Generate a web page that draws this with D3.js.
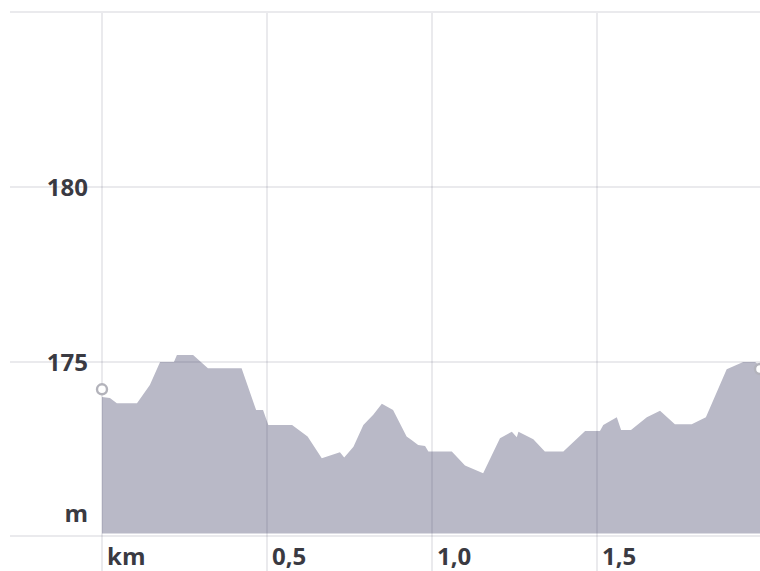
<!DOCTYPE html>
<html lang="en">
<head>
    <meta charset="UTF-8"/>
    <title>Elevation profile</title>
    <script src="https://d3js.org/d3.v7.min.js"></script>
    <style>
        body { margin: 0; background: #fff; }
        svg { display: block; }
        .lbl { font-family: "Open Sans", sans-serif; font-weight: 700; font-size: 24px; fill: #3a3a42; }
    </style>
</head>
<body>
    <script>
        var w = 760;
        var h = 571;

        // distance along route (km) and elevation (m)
        var distKm = [0, 0.024, 0.045, 0.106, 0.145, 0.176, 0.218, 0.227, 0.276, 0.321,
            0.423, 0.458, 0.467, 0.488, 0.504, 0.576, 0.623, 0.666, 0.721, 0.734,
            0.762, 0.792, 0.822, 0.848, 0.882, 0.923, 0.938, 0.958, 0.979, 0.989,
            1.060, 1.100, 1.155, 1.206, 1.242, 1.257, 1.262, 1.307, 1.342, 1.398,
            1.464, 1.509, 1.519, 1.560, 1.573, 1.603, 1.651, 1.691, 1.736, 1.787,
            1.830, 1.893, 1.943, 1.979, 1.994];
        var elevM = [174.0, 173.97, 173.82, 173.82, 174.34, 175.0, 175.0, 175.2, 175.2, 174.82,
            174.82, 173.87, 173.63, 173.63, 173.2, 173.2, 172.87, 172.25, 172.42, 172.27,
            172.58, 173.2, 173.49, 173.81, 173.63, 172.87, 172.77, 172.63, 172.6, 172.44,
            172.44, 172.04, 171.82, 172.82, 173.01, 172.85, 173.01, 172.79, 172.44, 172.44,
            173.03, 173.03, 173.2, 173.42, 173.06, 173.06, 173.42, 173.61, 173.22, 173.22,
            173.42, 174.79, 175.0, 175.0, 174.89];

        // start / end markers
        var markerKm = [0, 1.994];
        var markerM = [174.22, 174.8];

        var yTicks = [180, 175];
        var yGrid = [185, 180, 175, 170];
        var xTicks = [0, 0.5, 1.0, 1.5];
        var xTickLabels = ["km", "0,5", "1,0", "1,5"];
        var yUnit = "m";
        var baseM = 170.1;

        var xScale = d3.scaleLinear().domain([0, 2]).range([102, 762]);
        var yScale = d3.scaleLinear().domain([170, 185]).range([537, 12]);

        var svg = d3.select("body")
            .append("svg")
            .attr("width", w)
            .attr("height", h);

        var data = distKm.map(function(d, i) { return { km: d, m: elevM[i] }; });

        // profile area
        var area = d3.area()
            .x(function(d) { return xScale(d.km); })
            .y0(yScale(baseM))
            .y1(function(d) { return yScale(d.m); });

        svg.append("path")
            .datum(data)
            .attr("d", area)
            .attr("fill", "#b9b9c7");

        // grid on top, semi transparent so it shows through the area
        var gridColor = "rgba(60,60,95,0.11)";

        svg.selectAll(".hgrid")
            .data(yGrid)
            .enter()
            .append("line")
            .attr("class", "hgrid")
            .attr("x1", 10)
            .attr("x2", w)
            .attr("y1", function(d) { return yScale(d) - (d === 170 ? 1 : 0); })
            .attr("y2", function(d) { return yScale(d) - (d === 170 ? 1 : 0); })
            .attr("stroke", gridColor)
            .attr("stroke-width", 2);

        svg.selectAll(".vgrid")
            .data(xTicks)
            .enter()
            .append("line")
            .attr("class", "vgrid")
            .attr("x1", function(d) { return xScale(d); })
            .attr("x2", function(d) { return xScale(d); })
            .attr("y1", yScale(185) + 1)
            .attr("y2", h)
            .attr("stroke", gridColor)
            .attr("stroke-width", 2);

        // y labels
        svg.selectAll(".ylbl")
            .data(yTicks)
            .enter()
            .append("text")
            .attr("class", "lbl")
            .attr("x", 88)
            .attr("y", function(d) { return yScale(d) + 9; })
            .attr("text-anchor", "end")
            .text(function(d) { return d; });

        svg.append("text")
            .attr("class", "lbl")
            .attr("x", 88)
            .attr("y", 522)
            .attr("text-anchor", "end")
            .text(yUnit);

        // x labels
        svg.selectAll(".xlbl")
            .data(xTicks)
            .enter()
            .append("text")
            .attr("class", "lbl")
            .attr("x", function(d) { return xScale(d) + 5; })
            .attr("y", 565)
            .text(function(d, i) { return xTickLabels[i]; });

        // markers
        svg.selectAll(".marker")
            .data(markerKm)
            .enter()
            .append("circle")
            .attr("class", "marker")
            .attr("cx", function(d) { return xScale(d); })
            .attr("cy", function(d, i) { return yScale(markerM[i]); })
            .attr("r", 5)
            .attr("fill", "#fff")
            .attr("stroke", "#b3b3bb")
            .attr("stroke-width", 2.4);
    </script>
</body>
</html>
